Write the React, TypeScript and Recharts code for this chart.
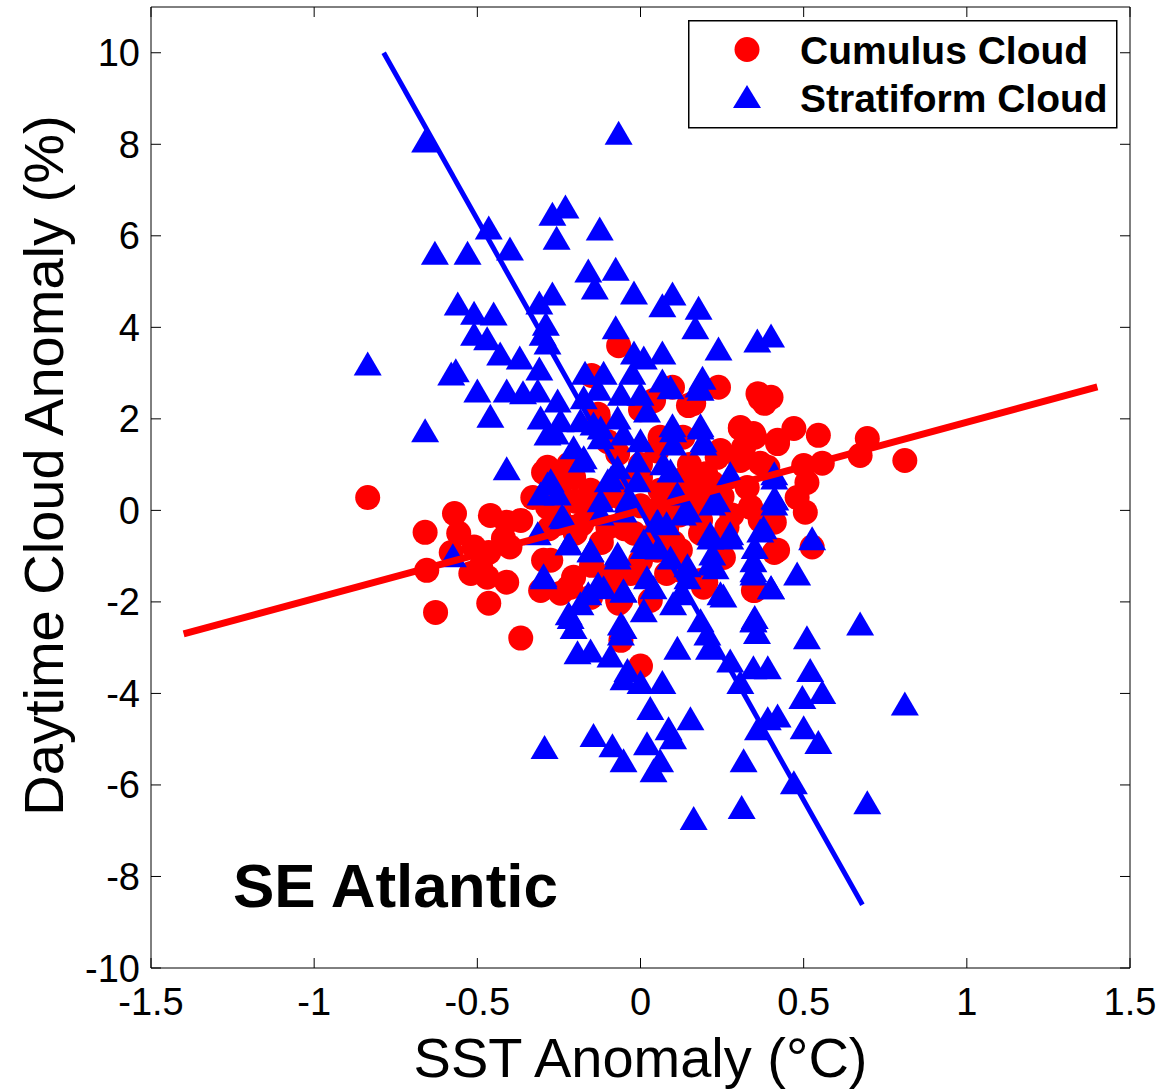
import { Label, Legend, Scatter, ScatterChart, XAxis, YAxis } from "recharts";

const FONT = "'Liberation Sans', Arial, Helvetica, sans-serif";
const RED = "#ff0000";
const BLUE = "#0000ff";

const xTicks = [-1.5, -1, -0.5, 0, 0.5, 1, 1.5];
const yTicks = [-10, -8, -6, -4, -2, 0, 2, 4, 6, 8, 10];

// cumulus cloud (red circles)
const cumulusSst = [
  -0.836, -0.66, -0.57, -0.557, -0.58, -0.655, -0.628, -0.46, -0.41, -0.367,
  -0.42, -0.51, -0.465, -0.4, -0.49, -0.52, -0.47, -0.41, -0.465, -0.367,
  -0.297, -0.33, -0.306, -0.297, -0.22, -0.2, -0.22, -0.13, -0.06, -0.07,
  -0.25, 0.306, 0.35, 0.42, 0.47, 0.545, 0.695, 0.673, 0.81, 0.557,
  0.5, 0.51, 0.48, 0.505, 0.39, 0.41, 0.41, 0.526, 0.35, 0.147,
  0.38, 0.337, 0.2, 0.184, 0.306, 0.245, 0.098, 0.239, 0.36, 0.4,
  -0.067, -0.15, -0.067, -0.13, 0.04, 0.06, -0.285, -0.205, -0.07, 0.0,
  0.06, -0.153, 0.367, 0.306, 0.346, 0.42, 0.163, 0.13, 0.235, 0.367,
  0.316, 0.122, 0.205, 0.327, 0.153, 0.337, 0.07, -0.285, -0.205, -0.1,
  -0.02, 0.052, -0.275, -0.205, -0.214, -0.03, -0.1, -0.06, -0.153, 0.03,
  -0.245, 0.092, 0.184, 0.367, 0.42, 0.122, 0.254, 0.184, 0.346, 0.193,
  0.08, 0.265, 0.0, -0.06, 0.0,
  -0.25, -0.2, -0.15, -0.1, -0.05, 0.0, 0.05, 0.1, 0.15, 0.2,
  -0.18, -0.12, -0.05, 0.02, 0.08, 0.12, 0.18, 0.25, 0.28, -0.28,
  -0.22, -0.1, 0.0, 0.05, 0.15, 0.22, -0.15, 0.0, 0.1, 0.25,
  -0.08, 0.12,
];
const cumulusCloud = [
  0.28, -0.48, -0.07, -0.5, -0.92, -1.31, -2.23, -0.11, -0.26, -0.22,
  -0.61, -0.8, -0.92, -0.8, -1.24, -1.38, -1.46, -1.57, -2.03, -2.79,
  0.83, 0.28, -1.75, -1.09, 0.72, -0.5, -1.68, 2.03, 0.28, -1.97,
  -0.15, 1.79, 1.6, 1.46, 1.79, 1.64, 1.57, 1.2, 1.09, 1.03,
  0.98, 0.61, 0.28, -0.04, 0.94, -0.26, -0.92, -0.8, -1.75, 2.29,
  2.34, 0.07, -1.57, -0.5, 1.09, 1.31, 2.69, 2.69, 2.55, 2.47,
  3.6, 2.95, -2.03, 2.1, 2.4, 1.6, 0.94, 0.72, 1.24, 0.72,
  0.44, 0.44, 2.44, 1.81, 1.68, 1.53, 2.34, 1.6, 1.16, 1.03,
  1.38, 0.66, 0.5, 0.5, 0.15, 0.07, 0.22, 0.07, -0.37, -0.37,
  -0.5, -0.87, -1.09, -1.46, -1.68, -1.38, -1.46, -1.97, -1.9, -1.97,
  -1.81, 0.07, -0.22, -0.22, -0.87, -0.87, -1.03, -1.53, -1.75, -1.68,
  -1.38, -0.37, -3.4, -2.84, 2.2,
  0.5, 0.2, 0.0, 0.3, 0.6, 0.1, -0.2, 0.2, 0.5, 0.8,
  -0.3, -0.7, -0.4, -0.6, -0.4, -0.1, 0.1, 0.3, -0.1, -0.4,
  1.0, 1.5, 1.0, 1.3, 1.0, 0.6, -1.2, -1.1, -0.7, -0.6,
  -1.5, -1.3,
];

// stratiform cloud (blue triangles)
const stratSst = [
  -0.66, -0.067, -0.465, -0.4, -0.63, -0.53, -0.27, -0.23, -0.257, -0.125,
  -0.16, -0.076, -0.14, -0.02, -0.31, -0.27, -0.076, -0.56, -0.51, -0.45,
  -0.51, -0.47, -0.29, -0.3, -0.285, -0.43, -0.37, -0.836, -0.566, -0.58,
  -0.31, -0.02, -0.025, -0.17, -0.113, -0.13, -0.5, -0.41, -0.36, -0.315,
  0.098, 0.067, 0.178, 0.168, 0.358, 0.4, 0.239, 0.067, 0.01, 0.067,
  0.19, 0.178, -0.66, -0.41, -0.46, -0.575, -0.285, -0.306, -0.24, -0.297,
  -0.315, -0.18, -0.09, -0.153, -0.07, -0.22, -0.16, -0.113, -0.052, -0.22,
  -0.205, -0.052, -0.306, -0.26, -0.184, -0.122, 0.098, 0.184, 0.193, 0.275,
  0.41, 0.413, 0.235, 0.147, 0.377, 0.526, 0.214, 0.275, 0.35, 0.22,
  0.346, 0.23, 0.48, 0.4, 0.254, 0.144, 0.346, 0.51, 0.673, 0.122,
  0.055, 0.092, 0.01, 0.04, 0.205, 0.35, 0.357, 0.21, 0.113, 0.275,
  0.346, 0.39, 0.306, 0.52, 0.557, 0.496, 0.81, 0.42, 0.39, 0.36,
  0.5, 0.545, 0.316, 0.47, 0.695, 0.31, 0.163, 0.153, 0.086, 0.1,
  0.02, 0.06, 0.04, 0.03, 0.067, 0.0, -0.294, -0.144, -0.086, -0.052,
  -0.193, -0.153, -0.06, -0.092, -0.052, -0.04, -0.254, -0.174, -0.06, 0.0,
  -0.245, -0.144, -0.07, 0.02, -0.285, -0.205, -0.122, -0.052, 0.0, -0.174,
  -0.07, -0.01, -0.275, -0.1, -0.01, -0.254, -0.122, -0.04, 0.092, 0.184,
  0.1, 0.184, 0.193, 0.1, 0.07, 0.41, 0.41, 0.113, -0.236, -0.122,
  -0.052, 0.052, -0.22, -0.153, -0.07, 0.01, -0.297, -0.13, -0.052, 0.02,
  -0.184, 0.01, -0.214, -0.06, 0.13, 0.22, 0.41, 0.08, 0.214, 0.275,
  0.367, 0.092, 0.214, 0.346, 0.144, 0.346, 0.4, 0.245, 0.1, 0.346,
  0.184,
];
const stratCloud = [
  8.08, 8.25, 6.18, 5.72, 5.63, 5.63, 6.48, 6.64, 5.96, 6.16,
  5.24, 5.28, 4.87, 4.76, 4.54, 4.74, 4.0, 4.52, 4.32, 4.3,
  3.86, 3.76, 4.08, 3.86, 3.67, 3.43, 3.34, 3.21, 3.06, 2.99,
  3.1, 3.45, 3.01, 3.01, 3.01, 2.66, 2.62, 2.62, 2.58, 2.62,
  4.74, 4.48, 4.43, 4.0, 3.71, 3.82, 3.54, 3.45, 3.34, 2.84,
  2.9, 2.73, 1.75, 0.92, 2.07, -0.98, 0.59, 0.37, -0.11, -1.42,
  -0.5, 1.09, 0.72, -0.87, -1.03, -0.72, -1.81, -1.68, -1.75, -2.25,
  -2.55, -2.55, 2.03, 1.7, 1.97, 1.81, 1.86, 1.86, 1.53, 0.81,
  0.81, 0.26, 0.22, 0.0, -0.37, -0.61, -0.5, -0.59, -0.8, -0.94,
  -1.31, -1.24, -1.38, -1.68, -1.86, -1.2, -2.4, -2.77, -2.47, -1.81,
  -0.81, 0.87, -0.66, -1.68, -2.69, -2.33, -2.66, -3.0, -3.0, -3.28,
  -3.43, -3.43, -3.75, -3.49, -3.97, -4.08, -4.22, -4.48, -4.54, -4.76,
  -4.74, -5.06, -5.46, -5.94, -6.38, -6.48, -6.72, -4.54, -4.76, -4.96,
  -5.09, -5.46, -5.68, -4.32, -3.75, -3.75, -5.17, -4.91, -5.13, -5.46,
  -3.1, -3.06, -2.69, -3.17, -3.67, -3.49, 2.4, 2.47, 2.55, 2.55,
  1.97, 1.9, 2.03, 2.18, 1.68, 1.38, 1.6, 1.68, 1.53, 1.16,
  0.94, 1.09, 0.66, 0.66, 0.66, 0.37, 0.22, 0.22, 2.69, 2.66,
  1.75, 1.81, 1.46, 1.46, 1.03, 0.72, 0.28, 0.37, -0.15, -0.07,
  0.0, -0.22, -0.72, -0.87, -0.94, -0.8, -1.46, -1.6, -1.75, -1.46,
  -2.03, -2.18, -2.33, -2.47, -0.07, 0.15, 0.15, -0.28, -0.59, -0.5,
  -0.44, -1.03, -1.16, -1.09, -1.46, -1.38, -1.68, -1.81, -2.03, -2.4,
  -2.4,
];

// least-squares fit lines (end points)
const cumulusFitSst = [-1.4, 1.4];
const cumulusFitCloud = [-2.7, 2.7];
const stratFitSst = [-0.787, 0.68];
const stratFitCloud = [10.0, -8.62];

const zip = (xs: number[], ys: number[]) => xs.map((x, i) => ({ x, y: ys[i] }));
const cumulusData = zip(cumulusSst, cumulusCloud);
const stratData = zip(stratSst, stratCloud);
const cumulusFit = zip(cumulusFitSst, cumulusFitCloud);
const stratFit = zip(stratFitSst, stratFitCloud);

const Circle = (p: any) => <circle cx={p.cx} cy={p.cy} r={12.5} fill={RED} />;
const Triangle = (p: any) => (
  <path d={`M${p.cx},${p.cy - 12} L${p.cx + 14},${p.cy + 12} L${p.cx - 14},${p.cy + 12} Z`} fill={BLUE} />
);
const NoDot = () => <g />;

const tickText = { fontSize: 38, fontFamily: FONT, fill: "#000" };

const LeftTick = ({ x, y, payload }: any) => (
  <g>
    <line x1={x} y1={y} x2={x + 10} y2={y} stroke="#000" strokeWidth={1} />
    <text x={x - 11} y={y + 13.5} textAnchor="end" {...tickText}>{String(payload.value)}</text>
  </g>
);
const RightTick = ({ x, y }: any) => <line x1={x} y1={y} x2={x - 10} y2={y} stroke="#000" strokeWidth={1} />;
const BottomTick = ({ x, y, payload }: any) => (
  <g>
    <line x1={x} y1={y} x2={x} y2={y - 10} stroke="#000" strokeWidth={1} />
    <text x={x} y={y + 47} textAnchor="middle" {...tickText}>{String(payload.value)}</text>
  </g>
);
const TopTick = ({ x, y }: any) => <line x1={x} y1={y} x2={x} y2={y + 10} stroke="#000" strokeWidth={1} />;

const XTitle = ({ viewBox }: any) => (
  <text x={viewBox.x + viewBox.width / 2} y={viewBox.y + 109} textAnchor="middle" fontSize={56} fontFamily={FONT} fill="#000">
    SST Anomaly (°C)
  </text>
);
const YTitle = ({ viewBox }: any) => {
  const cx = viewBox.x + 12;
  const cy = viewBox.y + viewBox.height / 2 - 22;
  return (
    <text x={cx} y={cy} transform={`rotate(-90, ${cx}, ${cy})`} textAnchor="middle" fontSize={56} fontFamily={FONT} fill="#000">
      Daytime Cloud Anomaly (%)
    </text>
  );
};

const LegendBox = () => (
  <svg width={430} height={109} style={{ display: "block" }}>
    <rect x={0.75} y={0.75} width={428} height={107} fill="#fff" stroke="#000" strokeWidth={1.5} />
    <circle cx={59} cy={29.5} r={12.5} fill={RED} />
    <path d="M59,65 L73,88 L45,88 Z" fill={BLUE} />
    <text x={112} y={44} fontSize={39} fontWeight="bold" fontFamily={FONT} fill="#000">Cumulus Cloud</text>
    <text x={112} y={92} fontSize={39} fontWeight="bold" fontFamily={FONT} fill="#000">Stratiform Cloud</text>
  </svg>
);

export default function App() {
  return (
    <div style={{ position: "absolute", left: 0, top: 0, width: 1173, height: 1089, background: "#fff" }}>
      <ScatterChart width={1173} height={1089} margin={{ top: 6, right: 42, bottom: 61, left: 51 }}>
        <XAxis
          xAxisId="b" type="number" dataKey="x" domain={[-1.5, 1.5]} ticks={xTicks} interval={0}
          allowDataOverflow height={60} tickSize={0} tickMargin={0} tickLine={false}
          axisLine={{ stroke: "#000", strokeWidth: 1 }} tick={BottomTick}
        >
          <Label content={XTitle} />
        </XAxis>
        <XAxis
          xAxisId="t" orientation="top" type="number" dataKey="x" domain={[-1.5, 1.5]} ticks={xTicks} interval={0}
          allowDataOverflow height={1} tickSize={0} tickMargin={0} tickLine={false}
          axisLine={{ stroke: "#000", strokeWidth: 1 }} tick={TopTick}
        />
        <YAxis
          yAxisId="l" type="number" dataKey="y" domain={[-10, 11]} ticks={yTicks} interval={0}
          allowDataOverflow width={100} tickSize={0} tickMargin={0} tickLine={false}
          axisLine={{ stroke: "#000", strokeWidth: 1 }} tick={LeftTick}
        >
          <Label content={YTitle} />
        </YAxis>
        <YAxis
          yAxisId="r" orientation="right" type="number" dataKey="y" domain={[-10, 11]} ticks={yTicks} interval={0}
          allowDataOverflow width={1} tickSize={0} tickMargin={0} tickLine={false}
          axisLine={{ stroke: "#000", strokeWidth: 1 }} tick={RightTick}
        />
        <Legend
          layout="vertical" align="center" verticalAlign="middle"
          wrapperStyle={{ position: "absolute", left: 688, top: 20, width: 430, height: 109 }}
          content={LegendBox}
        />
        <Scatter name="Cumulus Cloud" data={cumulusData} xAxisId="b" yAxisId="l" shape={Circle} isAnimationActive={false} />
        <Scatter name="Stratiform Cloud" data={stratData} xAxisId="b" yAxisId="l" shape={Triangle} isAnimationActive={false} />
        <Scatter
          data={cumulusFit} xAxisId="b" yAxisId="l" shape={NoDot} isAnimationActive={false}
          line={{ stroke: RED, strokeWidth: 7 }} legendType="none"
        />
        <Scatter
          data={stratFit} xAxisId="b" yAxisId="l" shape={NoDot} isAnimationActive={false}
          line={{ stroke: BLUE, strokeWidth: 5 }} legendType="none"
        />
      </ScatterChart>
      <svg width={1173} height={1089} style={{ position: "absolute", left: 0, top: 0, pointerEvents: "none" }}>
        <text x={233} y={907} fontSize={62} fontWeight="bold" fontFamily={FONT} fill="#000">SE Atlantic</text>
      </svg>
    </div>
  );
}
